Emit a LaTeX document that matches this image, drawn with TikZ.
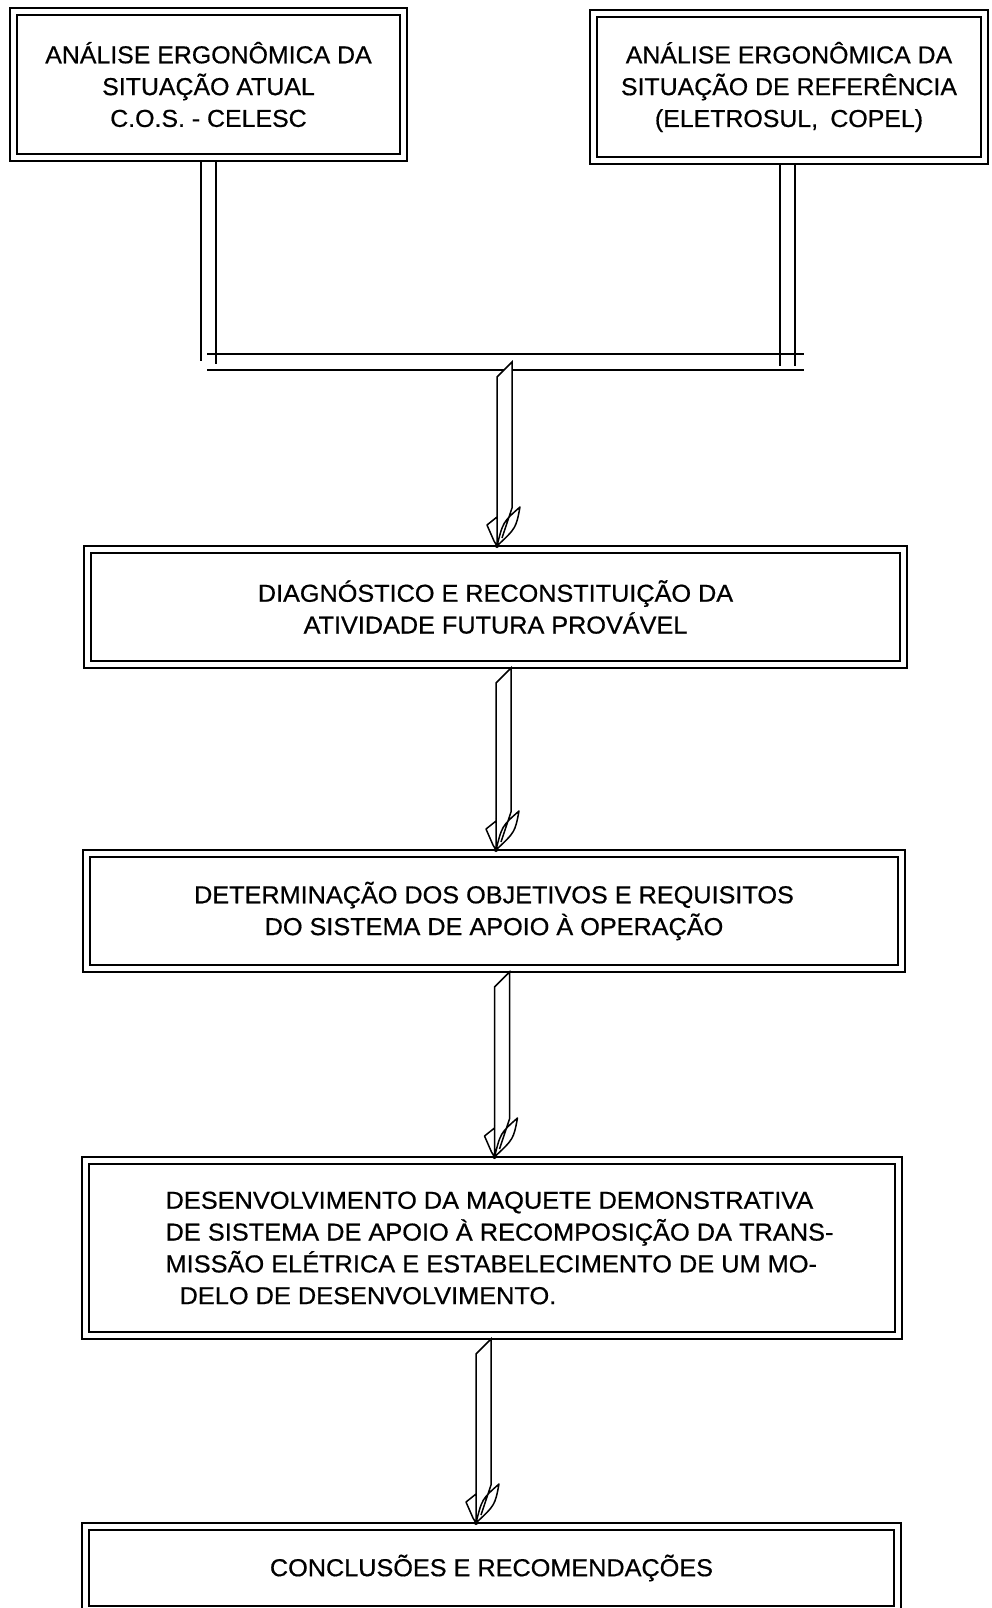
\documentclass[tikz,border=0pt]{standalone}
\usepackage{fontspec}
\setmainfont{Liberation Sans}
\newfontfamily\fonttop{Liberation Sans}[FakeStretch=1.016,FakeBold=0.6]
\newfontfamily\fontmid{Liberation Sans}[FakeStretch=1.03,FakeBold=0.6]
\newfontfamily\fontdev{Liberation Sans}[FakeStretch=1.035,FakeBold=0.6]
\usetikzlibrary{calc}
\newcommand{\hollowarrow}[3]{%
  \draw[arrowline] let \p1=#2, \p2=#3 in
    (#1pt,\y2+32pt) -- (#1pt,\y1-15pt) -- (#1pt+15pt,\y1) -- (#1pt+15pt,\y2+38pt);
  \draw[arrowhd] let \p1=#2, \p2=#3 in
    (#1pt,\y2+32pt) -- (#1pt,\y2)
    (#1pt,\y2+29pt) -- (#1pt-10pt,\y2+21pt) -- (#1pt-3pt,\y2+5pt) -- (#1pt,\y2)
    (#1pt,\y2) .. controls (#1pt+6pt,\y2+24pt) .. (#1pt+23pt,\y2+39pt)
      .. controls (#1pt+19pt,\y2+18pt) .. (#1pt+1pt,\y2+1pt)
    (#1pt+15pt,\y2+38pt) -- (#1pt+5pt,\y2+8pt);
  \fill let \p2=#3 in (#1pt,\y2) circle (2pt);
}
\begin{document}
\begin{tikzpicture}[x=1pt,y=-1pt,
  box/.style={draw, double, double distance=5.5pt, line width=1.5pt, rectangle,
    inner sep=0pt, outer sep=0pt, fill=white,
    font=\fontmid\fontsize{24.5}{31.8}\selectfont},
  conn/.style={line width=1.5pt},
  arrowline/.style={line width=1.5pt, line join=miter, fill=white},
  arrowhd/.style={line width=1.5pt, line join=round}]
\useasboundingbox (0,0) rectangle (992,1608);

\node[box, font=\fonttop\fontsize{24.5}{31.8}\selectfont, minimum width=390pt, minimum height=146pt, align=center] (b1) at (208.5,84.5)
  {ANÁLISE ERGONÔMICA DA\\SITUAÇÃO ATUAL\\C.O.S. - CELESC};
\node[box, font=\fonttop\fontsize{24.5}{31.8}\selectfont, minimum width=391pt, minimum height=147pt, align=center] (b2) at (789,87)
  {ANÁLISE ERGONÔMICA DA\\SITUAÇÃO DE REFERÊNCIA\\(ELETROSUL,\hspace{0.5em}COPEL)};
\node[box, minimum width=816pt, minimum height=115pt, align=center] (b3) at (495.5,607)
  {DIAGNÓSTICO E RECONSTITUIÇÃO DA\\ATIVIDADE FUTURA PROVÁVEL};
\node[box, minimum width=815pt, minimum height=115pt, align=center] (b4) at (494,911)
  {DETERMINAÇÃO DOS OBJETIVOS E REQUISITOS\\DO SISTEMA DE APOIO À OPERAÇÃO};
\node[box, font=\fontdev\fontsize{24.5}{31.8}\selectfont, minimum width=813pt, minimum height=175pt, align=left] (b5) at (492,1248)
  {\hspace*{15pt}DESENVOLVIMENTO DA MAQUETE DEMONSTRATIVA\\\hspace*{15pt}DE SISTEMA DE APOIO À RECOMPOSIÇÃO DA TRANS-\\\hspace*{15pt}MISSÃO ELÉTRICA E ESTABELECIMENTO DE UM MO-\\\hspace*{29pt}DELO DE DESENVOLVIMENTO.};
\node[box, minimum width=812pt, minimum height=83pt, align=center] (b6) at (491.5,1568)
  {CONCLUSÕES E RECOMENDAÇÕES};

% joining lines
\coordinate (lo) at (201,361);
\coordinate (li) at (216,364);
\coordinate (ro) at (780,366);
\coordinate (ri) at (795,366);
\coordinate (hu1) at (207,354);
\coordinate (hu2) at (804,354);
\coordinate (hl1) at (207,370);
\coordinate (hl2) at (804,370);
\coordinate (j) at (512,362);
\draw[conn, shorten <=3.5pt] (lo |- b1.south) -- (lo);
\draw[conn, shorten <=3.5pt] (li |- b1.south) -- (li);
\draw[conn, shorten <=3.5pt] (ro |- b2.south) -- (ro);
\draw[conn, shorten <=3.5pt] (ri |- b2.south) -- (ri);
\draw[conn] (hu1) -- (hu2);
\draw[conn] (hl1) -- (hl2);

\hollowarrow{497}{(j)}{($(b3.north)+(0,-3.5)$)}
\hollowarrow{496}{($(b3.south)+(0,3.5)$)}{($(b4.north)+(0,-3.5)$)}
\hollowarrow{494.5}{($(b4.south)+(0,3.5)$)}{($(b5.north)+(0,-3.5)$)}
\hollowarrow{476}{($(b5.south)+(0,3.5)$)}{($(b6.north)+(0,-3.5)$)}
\end{tikzpicture}
\end{document}
